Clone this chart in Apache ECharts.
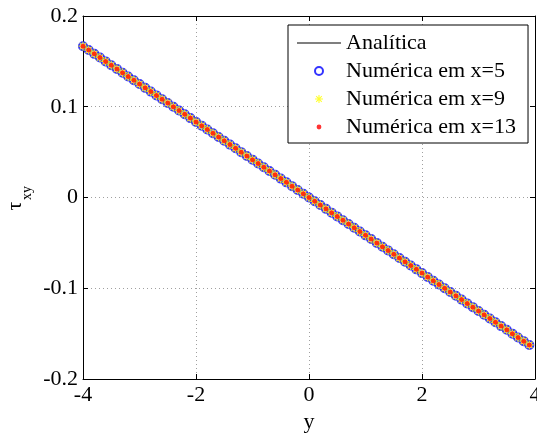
<!DOCTYPE html>
<html>
<head>
<meta charset="utf-8">
<script src="https://cdn.jsdelivr.net/npm/echarts@6/dist/echarts.min.js"></script>
<style>html,body{margin:0;padding:0;background:#fff;}#c{width:537px;height:433px;}</style>
</head>
<body>
<div id="c"></div>
<script>
var yPos = [-4.0,-3.9,-3.8,-3.7,-3.6,-3.5,-3.4,-3.3,-3.2,-3.1,-3.0,-2.9,-2.8,-2.7,-2.6,-2.5,-2.4,-2.3,-2.2,-2.1,-2.0,-1.9,-1.8,-1.7,-1.6,-1.5,-1.4,-1.3,-1.2,-1.1,-1.0,-0.9,-0.8,-0.7,-0.6,-0.5,-0.4,-0.3,-0.2,-0.1,0.0,0.1,0.2,0.3,0.4,0.5,0.6,0.7,0.8,0.9,1.0,1.1,1.2,1.3,1.4,1.5,1.6,1.7,1.8,1.9,2.0,2.1,2.2,2.3,2.4,2.5,2.6,2.7,2.8,2.9,3.0,3.1,3.2,3.3,3.4,3.5,3.6,3.7,3.8,3.9];
var tauAnalytic = [0.1667,0.1625,0.1583,0.1542,0.15,0.1458,0.1417,0.1375,0.1333,0.1292,0.125,0.1208,0.1167,0.1125,0.1083,0.1042,0.1,0.0958,0.0917,0.0875,0.0833,0.0792,0.075,0.0708,0.0667,0.0625,0.0583,0.0542,0.05,0.0458,0.0417,0.0375,0.0333,0.0292,0.025,0.0208,0.0167,0.0125,0.0083,0.0042,0,-0.0042,-0.0083,-0.0125,-0.0167,-0.0208,-0.025,-0.0292,-0.0333,-0.0375,-0.0417,-0.0458,-0.05,-0.0542,-0.0583,-0.0625,-0.0667,-0.0708,-0.075,-0.0792,-0.0833,-0.0875,-0.0917,-0.0958,-0.1,-0.1042,-0.1083,-0.1125,-0.1167,-0.1208,-0.125,-0.1292,-0.1333,-0.1375,-0.1417,-0.1458,-0.15,-0.1542,-0.1583,-0.1625];
var tauNumeric = [0.1667,0.1625,0.1583,0.1542,0.15,0.1458,0.1417,0.1375,0.1333,0.1292,0.125,0.1208,0.1167,0.1125,0.1083,0.1042,0.1,0.0958,0.0917,0.0875,0.0833,0.0792,0.075,0.0708,0.0667,0.0625,0.0583,0.0542,0.05,0.0458,0.0417,0.0375,0.0333,0.0292,0.025,0.0208,0.0167,0.0125,0.0083,0.0042,0,-0.0042,-0.0083,-0.0125,-0.0167,-0.0208,-0.025,-0.0292,-0.0333,-0.0375,-0.0417,-0.0458,-0.05,-0.0542,-0.0583,-0.0625,-0.0667,-0.0708,-0.075,-0.0792,-0.0833,-0.0875,-0.0917,-0.0958,-0.1,-0.1042,-0.1083,-0.1125,-0.1167,-0.1208,-0.125,-0.1292,-0.1333,-0.1375,-0.1417,-0.1458,-0.15,-0.1542,-0.1583,-0.1625];
var seriesNames = ['Analítica','Numérica em x=5','Numérica em x=9','Numérica em x=13'];
var xTickLabels = {'-4':'-4','-2':'-2','0':'0','2':'2','4':'4'};
var yTickLabels = {'0.2':'0.2','0.1':'0.1','0':'0','-0.1':'-0.1','-0.2':'-0.2'};

function pairs(xs, ys){ return xs.map(function(x,i){ return [x, ys[i]]; }); }

var FONT = 'Liberation Serif';
var star = 'path://M0,4.3H10V5.7H0Z M4.3,0H5.7V10H4.3Z M1,2L2,1L9,8L8,9Z M8,1L9,2L2,9L1,8Z';
var dotIcon = 'path://M0,0H0.01V0.01H0Z M9.99,9.99H10V10H9.99Z M5,2A3,3,0,1,1,4.99,2Z';
var lineIcon = 'path://M0,0H44V1H0Z';

var chart = echarts.init(document.getElementById('c'), null, {renderer:'canvas'});
var axisLine = {show:true, onZero:false, lineStyle:{color:'#000', width:1}};
var tick = {show:true, inside:true, length:5, lineStyle:{color:'#000'}};
chart.setOption({
  animation:false,
  backgroundColor:'#fff',
  textStyle:{fontFamily:FONT},
  grid:{left:83, right:2, top:16, bottom:54, containLabel:false, outerBoundsMode:'none'},
  xAxis:[{
    type:'value', min:-4, max:4, interval:2, position:'bottom',
    name:'y', nameLocation:'middle', nameGap:23,
    nameTextStyle:{fontFamily:FONT, fontSize:22, color:'#000'},
    axisLine:axisLine, axisTick:tick,
    axisLabel:{fontFamily:FONT, fontSize:22, color:'#000', margin:5, formatter:function(v){ return xTickLabels[String(v)] || String(v); }},
    splitLine:{show:true, lineStyle:{color:'#a0a0a0', type:[1,3], width:1}}
  },{
    type:'value', min:-4, max:4, interval:2, position:'top',
    axisLine:axisLine, axisTick:tick, axisLabel:{show:false}, splitLine:{show:false}
  }],
  yAxis:[{
    type:'value', min:-0.2, max:0.2, interval:0.1, position:'left',
    axisLine:axisLine, axisTick:tick,
    axisLabel:{fontFamily:FONT, fontSize:22, color:'#000', margin:5, formatter:function(v){ var k = String(Math.round(v*10)/10); return yTickLabels[k] || k; }},
    splitLine:{show:true, lineStyle:{color:'#a0a0a0', type:[1,3], width:1}}
  },{
    type:'value', min:-0.2, max:0.2, interval:0.1, position:'right',
    axisLine:axisLine, axisTick:tick, axisLabel:{show:false}, splitLine:{show:false}
  }],
  legend:{
    left:288, top:25, orient:'vertical',
    backgroundColor:'#fff', borderColor:'#000', borderWidth:1, borderRadius:0,
    padding:[4,12,2,9], itemGap:0, itemWidth:44, itemHeight:8,
    textStyle:{fontFamily:FONT, fontSize:22, color:'#000', lineHeight:28},
    data:[
      {name:seriesNames[0], icon:lineIcon},
      {name:seriesNames[1]},
      {name:seriesNames[2]},
      {name:seriesNames[3], icon:dotIcon}
    ]
  },
  graphic:[
    {type:'text', x:15, y:206, rotation:Math.PI/2, style:{text:'τ', fontFamily:FONT, fontSize:22, fill:'#000', align:'center', verticalAlign:'middle'}},
    {type:'text', x:27, y:193, rotation:Math.PI/2, style:{text:'xy', fontFamily:FONT, fontSize:14, fill:'#000', align:'center', verticalAlign:'middle'}}
  ],
  series:[
    {name:seriesNames[0], type:'line', data:pairs(yPos, tauAnalytic), symbol:'none', showSymbol:false, lineStyle:{color:'#000', width:1}, itemStyle:{color:'#000'}, z:1},
    {name:seriesNames[1], type:'scatter', data:pairs(yPos, tauNumeric), symbol:'emptyCircle', symbolSize:8, itemStyle:{color:'#0000ff', borderColor:'#0000ff', borderWidth:1}, z:2},
    {name:seriesNames[2], type:'scatter', data:pairs(yPos, tauNumeric), symbol:star, symbolSize:9, itemStyle:{color:'#ffff00'}, z:3},
    {name:seriesNames[3], type:'scatter', data:pairs(yPos, tauNumeric), symbol:'circle', symbolSize:5, itemStyle:{color:'#ff0000'}, z:4}
  ]
});
</script>
</body>
</html>
